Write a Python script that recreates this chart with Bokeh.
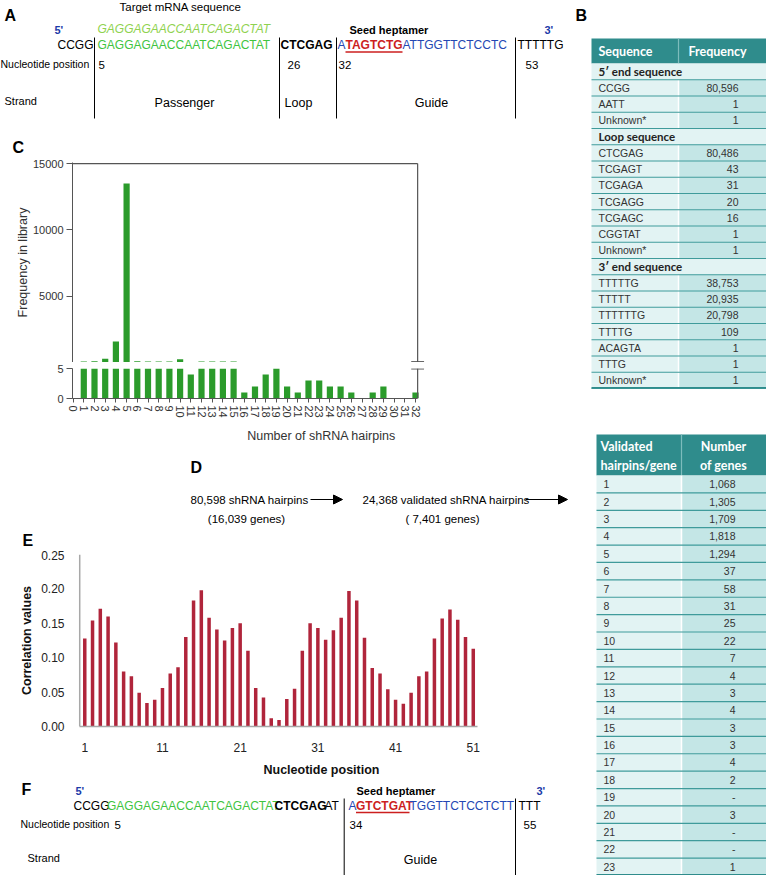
from bokeh.plotting import figure
from bokeh.models import (Range1d, FixedTicker, Arrow, NormalHead, PrintfTickFormatter, Label,
                          GridBox)
from bokeh.embed import file_html
from bokeh.resources import INLINE

# ---------------- data ----------------
a_seq_parts = ["CCGG", "GAGGAGAACCAATCAGACTAT", "CTCGAG", "A", "TAGTCTG", "ATTGGTTCTCCTC", "TTTTTG"]
a_target = "GAGGAGAACCAATCAGACTAT"
a_positions = ["5", "26", "32", "53"]
a_strands = ["Passenger", "Loop", "Guide"]

f_seq_parts = ["CCGG", "GAGGAGAACCAATCAGACTAT", "CTCGAG", "AT", "A", "GTCTGAT", "TGGTTCTCCTCTT", "TTT"]
f_positions = ["5", "34", "55"]

hairpins = list(range(0, 33))
library_freq = [0, 70, 90, 280, 1590, 13500, 100, 70, 70, 70, 250, 4, 70, 70, 70, 70,
                1, 2, 4, 5, 2, 1, 3, 3, 2, 2, 1, 0, 1, 2, 0, 0, 1]
lower_cap = 5

nt_positions = list(range(1, 52))
corr_values = [0.128, 0.154, 0.171, 0.160, 0.122, 0.080, 0.073, 0.049, 0.034, 0.039,
               0.056, 0.077, 0.086, 0.130, 0.183, 0.198, 0.158, 0.141, 0.125, 0.143,
               0.150, 0.110, 0.056, 0.042, 0.012, 0.0095, 0.040, 0.055, 0.110, 0.150,
               0.143, 0.126, 0.140, 0.158, 0.197, 0.183, 0.129, 0.085, 0.077, 0.054,
               0.039, 0.033, 0.049, 0.073, 0.080, 0.128, 0.157, 0.170, 0.155, 0.130, 0.113]

d_texts = ["80,598 shRNA hairpins", "(16,039 genes)", "24,368 validated shRNA hairpins", "( 7,401 genes)"]

t1_header = ["Sequence", "Frequency"]
t1_sections = ["5\u2032 end sequence", "Loop sequence", "3\u2032 end sequence"]
t1_seq_5 = ["CCGG", "AATT", "Unknown*"]
t1_freq_5 = [80596, 1, 1]
t1_seq_loop = ["CTCGAG", "TCGAGT", "TCGAGA", "TCGAGG", "TCGAGC", "CGGTAT", "Unknown*"]
t1_freq_loop = [80486, 43, 31, 20, 16, 1, 1]
t1_seq_3 = ["TTTTTG", "TTTTT", "TTTTTTG", "TTTTG", "ACAGTA", "TTTG", "Unknown*"]
t1_freq_3 = [38753, 20935, 20798, 109, 1, 1, 1]

t2_header = [["Validated", "hairpins/gene"], ["Number", "of genes"]]
t2_hairpins = list(range(1, 24))
t2_genes = [1068, 1305, 1709, 1818, 1294, 37, 58, 31, 25, 22, 7, 4, 3, 4, 3, 3, 4, 2,
            None, 3, None, None, 1]

# ---------------- style ----------------
SANS = "Liberation Sans"
TF = "Lato"
GREEN = "#3fc43f"
LGREEN = "#8fd24f"
BLUE = "#2447b3"
DBLUE = "#1b3aa8"
RED = "#cc1f1f"
BARG = "#2b9b2b"
BARR = "#b0253b"
TEAL = "#2f8c8c"
SEP = "#3f9b9b"
LFILL = "#e2f3f3"
RFILL = "#c4e6e6"
AX = "#555555"

W = 570            # width of the left column (px)
L = 72             # left border of the two charts


def fs(px):
    return f"{px:.1f}px"


def canvas(y0, y1, x0=0, x1=W):
    p = figure(width=int(x1 - x0), height=int(y1 - y0), x_range=Range1d(x0, x1),
               y_range=Range1d(y1, y0), toolbar_location=None, output_backend="svg",
               min_border=0, x_axis_location=None, y_axis_location=None)
    p.grid.visible = False
    p.outline_line_color = None
    return p


def T(p, x, y, s, size, color="#000000", style="normal", align="left", font=SANS):
    p.add_layout(Label(x=x, y=y, text=s, text_font=font, text_font_size=fs(size),
                       text_font_style=style, text_color=color, text_align=align,
                       text_baseline="middle"))


def vlines(p, xs, y0, y1):
    p.segment(x0=xs, x1=xs, y0=[y0] * len(xs), y1=[y1] * len(xs), line_color="#000000", line_width=1)


def style_axis(ax, size=11, color="#333333"):
    ax.major_label_text_font = SANS
    ax.major_label_text_font_size = fs(size)
    ax.major_label_text_color = color
    ax.axis_label_text_font = SANS
    ax.axis_label_text_font_style = "normal"
    ax.axis_label_text_font_size = fs(12.5)
    ax.axis_label_text_color = color
    ax.axis_line_color = AX
    ax.major_tick_line_color = AX
    ax.minor_tick_line_color = None
    ax.major_tick_in = 0


# ---------------- panel A (also holds label C) ----------------
pA = canvas(0, 157)
T(pA, 4, 15, "A", 16, style="bold")
T(pA, 119, 6, "Target mRNA sequence", 11.5)
T(pA, 54, 29, "5'", 11, DBLUE, "bold")
T(pA, 97, 28, a_target, 12, LGREEN, "italic")
T(pA, 349, 29, "Seed heptamer", 11, style="bold")
T(pA, 544, 29, "3'", 11, DBLUE, "bold")
a_x = [57, 97, 280, 337, 345, 402, 517]
a_col = ["#000000", GREEN, "#000000", BLUE, RED, BLUE, "#000000"]
a_sty = ["normal", "normal", "bold", "normal", "bold", "normal", "normal"]
for s, x, c, st in zip(a_seq_parts, a_x, a_col, a_sty):
    T(pA, x, 44, s, 12, c, st)
pA.segment(x0=[345], x1=[402], y0=[51.5], y1=[51.5], line_color=RED, line_width=1.5)
vlines(pA, [94, 279, 336, 515], 37, 118)
T(pA, 0, 63, "Nucleotide position", 10.5)
for s, x in zip(a_positions, [98, 287, 338, 525]):
    T(pA, x, 64, s, 11.5)
T(pA, 4, 100, "Strand", 11)
for s, x in zip(a_strands, [184, 298, 431]):
    T(pA, x, 102, s, 12.5, align="center")
T(pA, 12, 147, "C", 16, style="bold")

# ---------------- panel C (broken axis) ----------------
C0 = 72.6          # x pixel of hairpin 0
CU = 10.7          # pixels per hairpin
xr = Range1d((L - C0) / CU, (W - C0) / CU)
C_END = 32.2
up_x = [h for h, v in zip(hairpins, library_freq) if v > lower_cap]
up_v = [v for v in library_freq if v > lower_cap]
low_v = [min(v, lower_cap) for v in library_freq]

pCu = figure(width=W, height=205, x_range=xr, y_range=Range1d(0, 15080),
             toolbar_location=None, output_backend="svg", x_axis_location=None,
             min_border_left=L, min_border_right=0, min_border_top=5, min_border_bottom=0)
pCu.vbar(x=up_x, top=up_v, bottom=0, width=0.58, fill_color=BARG, line_color=None)
pCu.grid.visible = False
pCu.outline_line_color = None
pCu.segment(x0=[xr.start], x1=[C_END], y0=[15000], y1=[15000], line_color=AX, line_width=1.2)
pCu.segment(x0=[C_END], x1=[C_END], y0=[0], y1=[15000], line_color=AX, line_width=1.2)
pCu.segment(x0=[C_END - 0.6], x1=[C_END + 0.6], y0=[60], y1=[60], line_color=AX, line_width=1.2)
ya = pCu.yaxis[0]
style_axis(ya)
ya.ticker = FixedTicker(ticks=[0, 5000, 10000, 15000])
ya.major_label_overrides = {0: ""}
ya.axis_label = "Frequency in library"
ya.axis_label_standoff = 0
ya.major_label_standoff = 3
ya.major_tick_out = 6

pCl = figure(width=W, height=83, x_range=xr, y_range=Range1d(0, lower_cap),
             toolbar_location=None, output_backend="svg",
             min_border_left=L, min_border_right=0, min_border_top=6, min_border_bottom=46)
pCl.vbar(x=hairpins, top=low_v, bottom=0, width=0.58, fill_color=BARG, line_color=None)
pCl.grid.visible = False
pCl.outline_line_color = None
pCl.segment(x0=[C_END], x1=[C_END], y0=[0], y1=[lower_cap], line_color=AX, line_width=1.2)
pCl.segment(x0=[C_END - 0.6], x1=[C_END + 0.6], y0=[4.93], y1=[4.93], line_color=AX, line_width=1.2)
xa = pCl.xaxis[0]
style_axis(xa)
xa.bounds = (xr.start, C_END)
xa.ticker = FixedTicker(ticks=hairpins)
xa.major_label_orientation = "vertical"
xa.major_label_standoff = 3
xa.axis_label = "Number of shRNA hairpins"
xa.axis_label_standoff = 8
xa.major_tick_out = 4
yl = pCl.yaxis[0]
style_axis(yl)
yl.ticker = FixedTicker(ticks=[0, lower_cap])
yl.major_label_standoff = 3
yl.major_tick_out = 6

# ---------------- panel D (also holds label E) ----------------
pD = canvas(445, 550)
T(pD, 190, 467, "D", 16, style="bold")
T(pD, 190, 499, d_texts[0], 11.5)
T(pD, 246, 518, d_texts[1], 11.5, align="center")
T(pD, 362, 499, d_texts[2], 11.5)
T(pD, 442, 518, d_texts[3], 11.5, align="center")
for xs, xe in [(310, 342), (525, 567)]:
    pD.add_layout(Arrow(end=NormalHead(size=9, fill_color="#000000", line_color="#000000"),
                        x_start=xs, y_start=499, x_end=xe, y_end=499,
                        line_color="#000000", line_width=1.2))
T(pD, 22, 540, "E", 16, style="bold")

# ---------------- panel E ----------------
E0 = 76.5          # x pixel of position 0
EU = 7.77          # pixels per position
pE = figure(width=W, height=229, x_range=Range1d((L - E0) / EU, (W - E0) / EU),
            y_range=Range1d(0, 0.25), toolbar_location=None, output_backend="svg",
            min_border_left=L, min_border_right=0, min_border_top=4, min_border_bottom=49)
pE.vbar(x=nt_positions, top=corr_values, bottom=0, width=0.45, fill_color=BARR, line_color=None)
pE.grid.visible = False
pE.outline_line_color = None
pE.segment(x0=[0.35], x1=[0.35], y0=[0], y1=[0.25], line_color="#a8a8a8", line_width=1.5)
ex = pE.xaxis[0]
ex.ticker = FixedTicker(ticks=[1, 11, 21, 31, 41, 51])
ex.axis_label = "Nucleotide position"
ex.bounds = (0.35, 51.55)
ey = pE.yaxis[0]
ey.ticker = FixedTicker(ticks=[0, 0.05, 0.10, 0.15, 0.20, 0.25])
ey.formatter = PrintfTickFormatter(format="%.2f")
ey.axis_label = "Correlation values"
for ax in (ex, ey):
    style_axis(ax, 12, "#222222")
    ax.axis_label_text_font_style = "bold"
    ax.axis_label_text_color = "#111111"
    ax.axis_line_color = "#a8a8a8"
    ax.axis_line_width = 1.5
    ax.major_tick_line_color = None
ey.axis_line_color = None
ex.major_label_standoff = 10
ex.axis_label_standoff = 8
ey.major_label_standoff = 2
ey.axis_label_standoff = 4

# ---------------- panel F ----------------
pF = canvas(779, 875)
T(pF, 21, 789, "F", 16, style="bold")
T(pF, 75, 790, "5'", 11, DBLUE, "bold")
T(pF, 356, 790, "Seed heptamer", 11, style="bold")
T(pF, 536, 790, "3'", 11, DBLUE, "bold")
f_x = [73, 106.5, 274, 324, 348, 355.5, 409, 518]
f_col = ["#000000", GREEN, "#000000", "#000000", BLUE, RED, BLUE, "#000000"]
f_sty = ["normal", "normal", "bold", "normal", "normal", "bold", "normal", "normal"]
for s, x, c, st in zip(f_seq_parts, f_x, f_col, f_sty):
    T(pF, x, 805, s, 12, c, st)
pF.segment(x0=[355.5], x1=[409], y0=[812], y1=[812], line_color=RED, line_width=1.5)
vlines(pF, [343.7, 515], 798, 875)
T(pF, 20, 823, "Nucleotide position", 10.5)
for s, x in zip(f_positions, [114, 349, 523]):
    T(pF, x, 824, s, 11.5)
T(pF, 27, 857, "Strand", 11)
T(pF, 420, 859, "Guide", 12.5, align="center")

# ---------------- right column: tables B ----------------
pR = canvas(0, 875, x0=W, x1=766)
T(pR, 575, 15, "B", 16, style="bold")


def draw_table(p, x0, xm, x1, top, hbot, rows, rh, header_lines, value_x, label_x):
    p.quad(left=[x0], right=[x1], top=[top], bottom=[hbot], fill_color=TEAL, line_color=None)
    p.segment(x0=[xm], x1=[xm], y0=[top], y1=[hbot], line_color="#7dbcbc", line_width=1.2)
    for (txt, x, y, al) in header_lines:
        T(p, x, y, txt, 12.5, "#ffffff", "bold", al, TF)
    n = len(rows)
    tops = [hbot + i * rh for i in range(n)]
    bots = [t + rh for t in tops]
    sec_t = [t for t, r in zip(tops, rows) if r[0] == "section"]
    sec_b = [t + rh for t in sec_t]
    dat_t = [t for t, r in zip(tops, rows) if r[0] == "data"]
    dat_b = [t + rh for t in dat_t]
    if sec_t:
        p.quad(left=x0, right=x1, top=sec_t, bottom=sec_b, fill_color=LFILL, line_color=None)
    p.quad(left=x0, right=xm, top=dat_t, bottom=dat_b, fill_color=LFILL, line_color=None)
    p.quad(left=xm, right=x1, top=dat_t, bottom=dat_b, fill_color=RFILL, line_color=None)
    p.segment(x0=[xm] * len(dat_t), x1=[xm] * len(dat_t), y0=dat_t, y1=dat_b,
              line_color="#ffffff", line_width=1.5)
    p.segment(x0=[x0] * n, x1=[x1] * n, y0=bots, y1=bots, line_color=SEP, line_width=1.2)
    p.segment(x0=[x0], x1=[x1], y0=[bots[-1] - 0.8], y1=[bots[-1] - 0.8], line_color=TEAL, line_width=1.6)
    for (kind, lab, val), t in zip(rows, tops):
        yc = t + rh / 2
        if kind == "section":
            T(p, label_x, yc, lab, 11.5, "#222222", "bold", "left", TF)
        else:
            T(p, label_x, yc, lab, 10.5, "#333333")
            T(p, value_x, yc, "-" if val is None else f"{val:,}", 10.5, "#333333", align="right")


t1_rows = []
for sec, labs, vals in zip(t1_sections, [t1_seq_5, t1_seq_loop, t1_seq_3],
                           [t1_freq_5, t1_freq_loop, t1_freq_3]):
    t1_rows.append(("section", sec, None))
    for l, v in zip(labs, vals):
        t1_rows.append(("data", l, v))
draw_table(pR, 591, 678, 766, 38, 63, t1_rows, (388 - 63) / len(t1_rows),
           [(t1_header[0], 598, 51, "left"), (t1_header[1], 688, 51, "left")], 738, 598)

t2_rows = [("data", str(h), g) for h, g in zip(t2_hairpins, t2_genes)]
draw_table(pR, 596, 681, 766, 434, 475, t2_rows, (875 - 475) / len(t2_rows),
           [(t2_header[0][0], 600, 446, "left"), (t2_header[0][1], 600, 465, "left"),
            (t2_header[1][0], 723, 446, "center"), (t2_header[1][1], 723, 465, "center")],
           735, 603)

# canvases span grid columns 0-1, charts sit in column 1 only, so their frames are
# aligned with each other but not with the text canvases
page = GridBox(children=[(pA, 0, 0, 1, 2), (pCu, 1, 1, 1, 1), (pCl, 2, 1, 1, 1),
                         (pD, 3, 0, 1, 2), (pE, 4, 1, 1, 1), (pF, 5, 0, 1, 2),
                         (pR, 0, 2, 6, 1)])
open("out.html", "w").write(file_html(page, INLINE))
